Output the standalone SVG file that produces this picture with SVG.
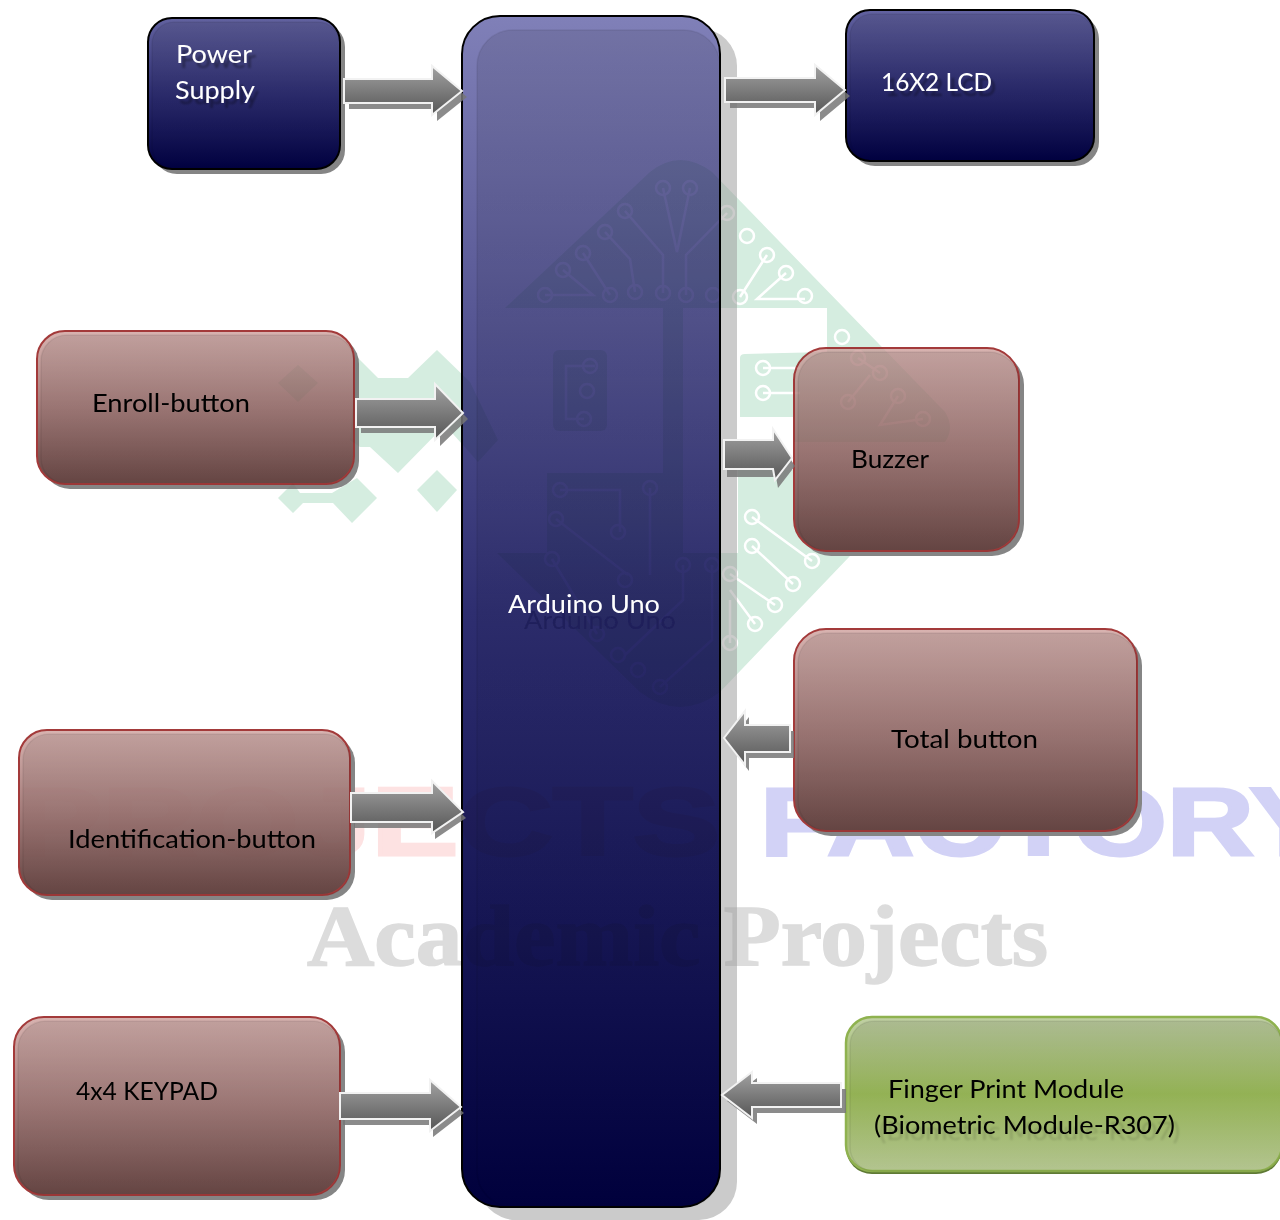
<svg xmlns="http://www.w3.org/2000/svg" width="1280" height="1220" viewBox="0 0 1280 1220">
<style>
text{font-family:"Lato","Open Sans","Liberation Sans",sans-serif;font-size:25px;fill:#000}
text.w{fill:#fff}
.navy{fill:url(#gNavy);stroke:#000;stroke-width:2}
.red{fill:url(#gRed);stroke:#a33a3a;stroke-width:2}
.green{fill:url(#gGreen);stroke:#8fb24f;stroke-width:2.5}
.sh{fill:#858585}
.bevel{fill:url(#gBevel);stroke:#000;stroke-opacity:.07;stroke-width:1.5}
.a{fill:url(#gArrow);stroke:#f2f2f2;stroke-width:2}
.s{fill:#777;opacity:.85}
.em{fill:#d5ede0}
.tr{fill:none;stroke:#fff;stroke-width:2.5}
.blend{mix-blend-mode:multiply;opacity:.6}
.blend2{mix-blend-mode:multiply;opacity:.3}
.blend3{mix-blend-mode:multiply;opacity:.12}
.wt{font-family:"Liberation Sans",sans-serif;font-weight:bold;font-size:97px;stroke-width:3}
</style>
<defs>
<linearGradient id="gNavy" x1="0" y1="0" x2="0" y2="1"><stop offset="0" stop-color="#6262a0"/><stop offset=".5" stop-color="#2d2d70"/><stop offset="1" stop-color="#00003f"/></linearGradient>
<linearGradient id="gArd" x1="0" y1="0" x2="0" y2="1"><stop offset="0" stop-color="#8080b8"/><stop offset=".5" stop-color="#2e2e70"/><stop offset="1" stop-color="#00003c"/></linearGradient>
<linearGradient id="gRed" x1="0" y1="0" x2="0" y2="1"><stop offset="0" stop-color="#d8b3b0"/><stop offset=".5" stop-color="#a27b79"/><stop offset="1" stop-color="#644442"/></linearGradient>
<linearGradient id="gGreen" x1="0" y1="0" x2="0" y2="1"><stop offset="0" stop-color="#c0d0a4"/><stop offset=".5" stop-color="#9bbb59"/><stop offset="1" stop-color="#b3c490"/></linearGradient>
<linearGradient id="gBevel" x1="0" y1="0" x2="0" y2="1"><stop offset="0" stop-color="#000" stop-opacity=".1"/><stop offset="1" stop-color="#000" stop-opacity="0"/></linearGradient>
<linearGradient id="gArrow" x1="0" y1="0" x2="0" y2="1"><stop offset="0" stop-color="#a2a2a2"/><stop offset="1" stop-color="#565656"/></linearGradient>
<filter id="sArd" x="-20%" y="-50%" width="140%" height="250%"><feDropShadow dx="16" dy="16" stdDeviation="0.4" flood-color="#1c1c58" flood-opacity=".9"/></filter>
<filter id="sSmall" x="-20%" y="-50%" width="140%" height="250%"><feDropShadow dx="4" dy="5" stdDeviation="0.8" flood-color="#000" flood-opacity=".35"/></filter>
<filter id="sBio" x="-20%" y="-50%" width="140%" height="250%"><feDropShadow dx="5" dy="6" stdDeviation="1" flood-color="#000" flood-opacity=".14"/></filter>
<clipPath id="cArd"><rect x="462" y="16" width="258" height="1191" rx="38"/><rect x="478" y="28" width="259" height="1192" rx="38"/></clipPath>
<clipPath id="cEnroll"><rect x="37" y="331" width="322" height="158" rx="28"/></clipPath>
<clipPath id="cBuzzer"><path d="M794,442 V380 Q794,348 826,348 H992 Q1024,348 1024,380 V442 Z"/></clipPath>
<clipPath id="cIdent"><rect x="19" y="730" width="336" height="170" rx="28"/></clipPath>
<g id="wm">
<g class="em">
<path d="M505,308 L650,172 Q680,148 712,172 L945,412 Q955,428 945,442 L794,442 L794,417 L740,417 L740,358 Q740,354 745,354 L827,352 L827,308 Z"/>
<rect x="663" y="308" width="20" height="245"/>
<path d="M497,553 L547,553 L547,473 L663,473 L683,553 L738,553 L738,470 L830,470 L830,556 L850,556 L720,692 Q680,722 640,692 Z"/>
<rect x="553" y="350" width="54" height="81" rx="6"/>
<path d="M357,357 L378,378 H408 L437,350 L470,382 L498,440 L478,462 L445,425 L398,473 L370,447 H360 L350,440 L357,357 Z"/>
<path d="M298,365 L318,383 L298,402 L278,383 Z"/>
<path d="M437,470 L457,490 L437,512 L417,490 Z"/>
<path d="M278,498 L293,483 L300,493 H332 L357,478 L377,498 L352,523 L333,503 H303 L293,513 Z"/>
</g>
<g class="tr">
<path d="M545,295 H593 L563,270 M583,253 L610,295 M605,232 L630,259 L635,292 M625,211 L663,255 V293 M663,188 L677,252 L690,188 M686,295 V255 L727,213 M740,297 L767,255 M786,273 L757,299 H805 M763,368 H800 M763,393 H800 M595,366 H566 V419 H584 M560,490 H620 V532 M556,519 L628,575 M650,488 V575 M552,559 L597,634 M683,565 V600 L625,655 M712,565 V640 L660,687 M752,517 L812,561 M752,546 L793,584 M730,574 L775,605 M730,590 L755,624 M730,600 V643 M858,358 L880,373 M848,402 L870,375 M898,396 L880,425 L923,419"/>
<circle cx="545" cy="295" r="7"/><circle cx="563" cy="270" r="7"/><circle cx="583" cy="253" r="7"/><circle cx="605" cy="232" r="7"/><circle cx="625" cy="211" r="7"/><circle cx="663" cy="188" r="7"/><circle cx="690" cy="188" r="7"/><circle cx="610" cy="295" r="7"/><circle cx="635" cy="292" r="7"/><circle cx="663" cy="293" r="7"/><circle cx="686" cy="295" r="7"/><circle cx="713" cy="295" r="7"/><circle cx="740" cy="297" r="7"/><circle cx="767" cy="255" r="7"/><circle cx="786" cy="273" r="7"/><circle cx="805" cy="296" r="7"/><circle cx="747" cy="236" r="7"/><circle cx="727" cy="213" r="7"/><circle cx="842" cy="337" r="7"/><circle cx="763" cy="368" r="7"/><circle cx="763" cy="393" r="7"/><circle cx="590" cy="366" r="7"/><circle cx="587" cy="391" r="7"/><circle cx="584" cy="419" r="7"/><circle cx="560" cy="490" r="7"/><circle cx="650" cy="488" r="7"/><circle cx="556" cy="519" r="7"/><circle cx="618" cy="532" r="7"/><circle cx="552" cy="559" r="7"/><circle cx="683" cy="565" r="7"/><circle cx="712" cy="565" r="7"/><circle cx="752" cy="517" r="7"/><circle cx="812" cy="561" r="7"/><circle cx="752" cy="546" r="7"/><circle cx="793" cy="584" r="7"/><circle cx="730" cy="574" r="7"/><circle cx="775" cy="605" r="7"/><circle cx="755" cy="624" r="7"/><circle cx="730" cy="643" r="7"/><circle cx="625" cy="580" r="7"/><circle cx="597" cy="634" r="7"/><circle cx="618" cy="655" r="7"/><circle cx="638" cy="670" r="7"/><circle cx="660" cy="687" r="7"/><circle cx="858" cy="358" r="7"/><circle cx="880" cy="373" r="7"/><circle cx="848" cy="402" r="7"/><circle cx="898" cy="396" r="7"/><circle cx="923" cy="419" r="7"/>
</g>
<text class="wt" x="15" y="855" textLength="705" lengthAdjust="spacingAndGlyphs" style="fill:#fde2e2;stroke:#fde2e2">PROJECTS</text>
<text class="wt" x="760" y="855" textLength="570" lengthAdjust="spacingAndGlyphs" style="fill:#d2d2f6;stroke:#d2d2f6">FACTORY</text>
<text x="307" y="965" textLength="741" lengthAdjust="spacingAndGlyphs" style="font-family:'Liberation Serif',serif;font-weight:bold;font-size:86px;fill:#dcdcdc;stroke:#dcdcdc;stroke-width:1.5">Academic Projects</text>
</g>
</defs>
<rect width="1280" height="1220" fill="#fff"/>
<use id="watermark" href="#wm"/>

<g id="node-power">
<rect class="sh" x="153" y="23" width="192" height="151" rx="24"/>
<rect class="navy" x="148" y="18" width="192" height="151" rx="24"/>
<rect class="bevel" x="152" y="22" width="188" height="147" rx="22"/>
<text class="w" x="176" y="63" textLength="76" lengthAdjust="spacingAndGlyphs" filter="url(#sSmall)">Power</text>
<text class="w" x="175" y="99" textLength="80" lengthAdjust="spacingAndGlyphs" filter="url(#sSmall)">Supply</text>
</g>
<g id="node-lcd">
<rect class="sh" x="851" y="15" width="248" height="151" rx="24"/>
<rect class="navy" x="846" y="10" width="248" height="151" rx="24"/>
<rect class="bevel" x="850" y="14" width="244" height="147" rx="22"/>
<text class="w" x="881" y="91" textLength="111" lengthAdjust="spacingAndGlyphs" filter="url(#sSmall)">16X2 LCD</text>
</g>
<g id="node-enroll">
<rect class="sh" x="42" y="336" width="317" height="153" rx="28"/>
<rect class="red" x="37" y="331" width="317" height="153" rx="28"/>
<rect class="bevel" x="41" y="335" width="313" height="149" rx="26"/>
<use class="blend2" href="#wm" clip-path="url(#cEnroll)"/>
<text x="92" y="412" textLength="158" lengthAdjust="spacingAndGlyphs">Enroll-button</text>
</g>
<g id="node-ident">
<rect class="sh" x="24" y="735" width="331" height="165" rx="28"/>
<rect class="red" x="19" y="730" width="331" height="165" rx="28"/>
<rect class="bevel" x="23" y="734" width="327" height="161" rx="26"/>
<use class="blend3" href="#wm" clip-path="url(#cIdent)"/>
<text x="68" y="848" textLength="248" lengthAdjust="spacingAndGlyphs">Identification-button</text>
</g>
<g id="node-keypad">
<rect class="sh" x="19" y="1022" width="326" height="178" rx="30"/>
<rect class="red" x="14" y="1017" width="326" height="178" rx="30"/>
<rect class="bevel" x="18" y="1021" width="322" height="174" rx="28"/>
<text x="76" y="1100" textLength="142" lengthAdjust="spacingAndGlyphs">4x4 KEYPAD</text>
</g>
<g id="node-arduino">
<rect fill="#cbcbcb" x="478" y="28" width="259" height="1192" rx="38"/>
<rect x="462" y="16" width="258" height="1191" rx="38" fill="url(#gArd)" stroke="#000" stroke-width="2"/>
<rect class="bevel" x="477" y="30" width="243" height="1177" rx="36"/>
<use class="blend" href="#wm" clip-path="url(#cArd)"/>
<text class="w" x="508" y="613" textLength="152" lengthAdjust="spacingAndGlyphs" filter="url(#sArd)">Arduino Uno</text>
</g>
<g id="node-buzzer">
<rect class="sh" x="799" y="353" width="225" height="203" rx="32"/>
<rect class="red" x="794" y="348" width="225" height="203" rx="32"/>
<rect class="bevel" x="798" y="352" width="221" height="199" rx="30"/>
<use class="blend2" href="#wm" clip-path="url(#cBuzzer)"/>
<text x="851" y="468" textLength="78" lengthAdjust="spacingAndGlyphs">Buzzer</text>
</g>
<g id="node-total">
<rect class="sh" x="799" y="634" width="343" height="202" rx="32"/>
<rect class="red" x="794" y="629" width="343" height="202" rx="32"/>
<rect class="bevel" x="798" y="633" width="339" height="198" rx="30"/>
<text x="891" y="748" textLength="147" lengthAdjust="spacingAndGlyphs">Total button</text>
</g>
<g id="node-finger">
<rect fill="#5f7a35" x="846" y="1020" width="436" height="154" rx="26"/>
<rect class="green" x="846" y="1017" width="436" height="154" rx="26"/>
<rect class="bevel" x="850" y="1021" width="432" height="150" rx="24"/>
<text x="888" y="1098" textLength="236" lengthAdjust="spacingAndGlyphs">Finger Print Module</text>
<text x="874" y="1134" textLength="301" lengthAdjust="spacingAndGlyphs" filter="url(#sBio)">(Biometric Module-R307)</text>
</g>

<g id="connectors">
<g><polygon class="s" transform="translate(5,6)" points="344,79 432,79 432,66 462,91 432,115 432,103 344,103"/><polygon class="a" points="344,79 432,79 432,66 462,91 432,115 432,103 344,103"/></g>
<g><polygon class="s" transform="translate(5,6)" points="725,78 815,78 815,65 845,90 815,115 815,102 725,102"/><polygon class="a" points="725,78 815,78 815,65 845,90 815,115 815,102 725,102"/></g>
<g><polygon class="s" transform="translate(5,6)" points="356,399 435,399 435,384 463,413 435,440 435,427 356,427"/><polygon class="a" points="356,399 435,399 435,384 463,413 435,440 435,427 356,427"/></g>
<g><polygon class="s" transform="translate(3,8)" points="724,440 773,440 773,429 792,458 775,480 773,469 724,469"/><polygon class="a" points="724,440 773,440 773,429 792,458 775,480 773,469 724,469"/></g>
<g><polygon class="s" transform="translate(4,6)" points="790,725 745,725 745,711 724,738 745,765 745,752 790,752"/><polygon class="a" points="790,725 745,725 745,711 724,738 745,765 745,752 790,752"/></g>
<g><polygon class="s" transform="translate(3,6)" points="351,793 432,793 432,781 463,812 432,833 432,822 351,822"/><polygon class="a" points="351,793 432,793 432,781 463,812 432,833 432,822 351,822"/></g>
<g><polygon class="s" transform="translate(3,6)" points="340,1093 430,1093 430,1080 461,1107 430,1131 430,1119 340,1119"/><polygon class="a" points="340,1093 430,1093 430,1080 461,1107 430,1131 430,1119 340,1119"/></g>
<g><polygon class="s" transform="translate(5,6)" points="841,1083 752,1083 752,1072 722,1095 752,1118 752,1107 841,1107"/><polygon class="a" points="841,1083 752,1083 752,1072 722,1095 752,1118 752,1107 841,1107"/></g>
</g>
</svg>
